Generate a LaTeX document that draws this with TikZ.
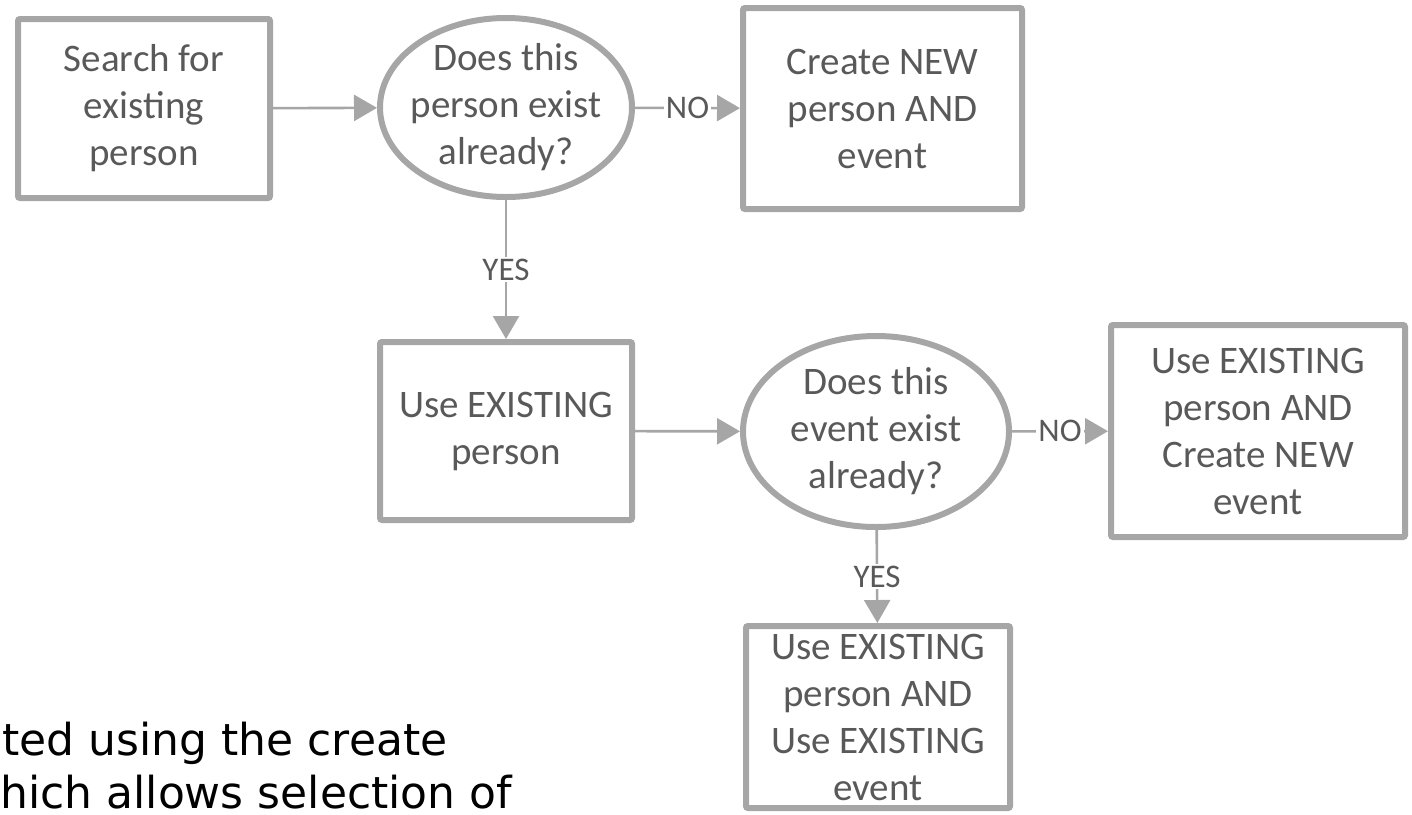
\documentclass[tikz,border=0pt]{standalone}
\usepackage{fontspec}
\setmainfont{Carlito}
\newfontfamily\notefont{DejaVu Sans}
\usepackage{xcolor}
\usepackage{tikz}
\usetikzlibrary{shapes.geometric,arrows.meta}
\definecolor{linegray}{HTML}{A6A6A6}
\definecolor{textgray}{HTML}{595959}

\begin{document}
\begin{tikzpicture}[x=0.5pt, y=-0.5pt,
    box/.style={draw=linegray, line width=3pt, rectangle, rounded corners=1pt, inner sep=0pt,
        align=center, text=textgray, font=\fontsize{19.5}{23.5}\selectfont},
    query/.style={draw=linegray, line width=3pt, ellipse, inner sep=-15pt,
        align=center, text=textgray, font=\fontsize{19.5}{23.5}\selectfont},
    flow/.style={draw=linegray, line width=1.3pt, -{Triangle[length=11.5pt,width=13pt]}},
    answer/.style={fill=white, inner sep=1pt, text=textgray, font=\fontsize{16.5}{16.5}\selectfont}]
    \useasboundingbox (0,0) rectangle (1412,814);
    \clip (0,0) rectangle (1412,814);

    \node[box, minimum width=126pt, minimum height=89.5pt] (S) at (144, 108.5) {Search for\\existing\\person};
    \node[query, minimum width=126pt, minimum height=89.5pt] (QP) at (506, 107.5) {Does this\\person exist\\already?};
    \node[box, minimum width=139.5pt, minimum height=100.5pt] (NP) at (882.5, 108.5) {Create NEW\\person AND\\event};

    \node[box, minimum width=126pt, minimum height=89pt] (UP) at (506, 431) {Use EXISTING\\person};
    \node[query, minimum width=133pt, minimum height=95.5pt] (QE) at (876, 431.5) {Does this\\event exist\\already?};
    \node[box, minimum width=147pt, minimum height=106pt] (NE) at (1258, 431) {Use EXISTING\\person AND\\Create NEW\\event};

    \node[box, minimum width=132pt, minimum height=91pt] (UE) at (878, 717) {Use EXISTING\\person AND\\Use EXISTING\\event};

    \draw[flow] (S) to (QP);
    \draw[flow] (QP) to node[midway, answer] {NO} (NP);
    \draw[flow] (QP) to node[midway, answer] {YES} (UP);
    \draw[flow] (UP) to (QE);
    \draw[flow] (QE) to node[midway, answer] {NO} (NE);
    \draw[flow] (QE) to node[midway, answer] {YES} (UE);

    % text at the lower left
    \node[anchor=base west, inner sep=0pt, font=\notefont\fontsize{22}{22}\selectfont] (T1) at (2, 755) {ted using the create};
    \node[anchor=base west, inner sep=0pt, font=\notefont\fontsize{22}{22}\selectfont] (T2) at (0, 808) {hich allows selection of};
\end{tikzpicture}
\end{document}
